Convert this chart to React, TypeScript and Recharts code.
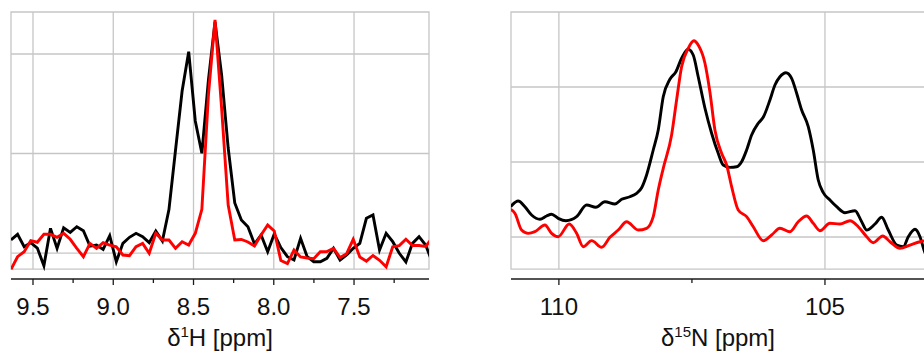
import React from 'react';
import { LineChart, Line, XAxis, YAxis, ReferenceLine, ReferenceArea } from 'recharts';

// ---------- 1H panel ----------
const hPpm = [
  9.637, 9.596, 9.555, 9.514, 9.473, 9.432, 9.391, 9.35, 9.309, 9.268,
  9.227, 9.186, 9.145, 9.104, 9.063, 9.022, 8.981, 8.94, 8.899, 8.858,
  8.817, 8.776, 8.735, 8.694, 8.653, 8.612, 8.571, 8.53, 8.489, 8.448,
  8.407, 8.366, 8.325, 8.284, 8.243, 8.202, 8.161, 8.12, 8.079, 8.038,
  7.997, 7.956, 7.915, 7.874, 7.833, 7.792, 7.751, 7.71, 7.669, 7.628,
  7.587, 7.546, 7.505, 7.464, 7.423, 7.382, 7.341, 7.3, 7.259, 7.218,
  7.177, 7.136, 7.095, 7.054, 7.013,
];
const hBlack = [
  0.131, 0.188, 0.063, 0.104, 0.05, -0.128, 0.248, 0.047, 0.254, 0.208,
  0.264, 0.224, 0.07, 0.08, 0.037, 0.174, -0.087, 0.097, 0.158, 0.198,
  0.164, 0.104, 0.221, 0.121, 0.437, 1.035, 1.628, 2.023, 1.327, 1.002,
  1.739, 2.322, 1.789, 1.055, 0.503, 0.332, 0.264, 0.09, 0.181, 0.013,
  0.191, 0.055, -0.037, -0.07, 0.148, -0.037, -0.087, -0.087, -0.053, 0.047,
  -0.07, -0.02, 0.047, 0.097, 0.349, 0.382, 0.03, 0.198, 0.114, -0.003,
  -0.09, 0.097, 0.164, 0.08, -0.09,
];
const hRed = [
  -0.164, -0.037, 0.013, 0.124, 0.108, 0.188, 0.188, 0.158, 0.198, 0.138,
  0.047, -0.037, 0.097, 0.047, 0.104, 0.08, 0.063, -0.02, -0.027, 0.063,
  0.097, -0.003, 0.198, 0.131, 0.131, 0.047, 0.114, 0.08, 0.198, 0.439,
  1.588, 2.342, 1.457, 0.482, 0.131, 0.136, 0.111, 0.07, 0.181, 0.281,
  0.221, -0.075, -0.106, 0.03, -0.04, -0.05, -0.057, 0.013, 0.015, 0.047,
  -0.045, -0.007, 0.138, -0.04, -0.082, -0.025, -0.073, -0.138, 0.063, 0.075,
  0.138, 0.075, 0.075, 0.067, 0.151,
];
const hTicks = [9.5, 9.25, 9.0, 8.75, 8.5, 8.25, 8.0, 7.75, 7.5, 7.25];
const hGridX = [9.5, 9.0, 8.5, 8.0, 7.5];
const hGridY = [0, 1, 2];

// ---------- 15N panel ----------
const nBlackPpm = [
  110.908, 110.765, 110.639, 110.513, 110.357, 110.231, 110.137, 110.013, 109.868, 109.667,
  109.479, 109.305, 109.135, 108.947, 108.821, 108.665, 108.539, 108.445, 108.352, 108.227,
  108.133, 108.039, 107.914, 107.801, 107.694, 107.57, 107.476, 107.382, 107.256, 107.13,
  107.006, 106.912, 106.786, 106.66, 106.566, 106.472, 106.378, 106.254, 106.16, 106.034,
  105.94, 105.846, 105.733, 105.626, 105.532, 105.438, 105.314, 105.22, 105.126, 105.032,
  104.906, 104.78, 104.624, 104.436, 104.31, 104.216, 104.06, 103.934, 103.81, 103.652,
  103.528, 103.434, 103.308, 103.214, 103.139, 103.045,
];
const nBlack = [
  0.404, 0.48, 0.404, 0.293, 0.236, 0.28, 0.303, 0.249, 0.217, 0.271,
  0.427, 0.396, 0.471, 0.44, 0.503, 0.537, 0.583, 0.657, 0.827, 1.16,
  1.427, 1.871, 2.103, 2.204, 2.383, 2.503, 2.427, 2.137, 1.72, 1.383,
  1.116, 0.96, 0.929, 0.937, 1.004, 1.16, 1.36, 1.516, 1.596, 1.827,
  2.027, 2.137, 2.191, 2.116, 1.916, 1.693, 1.471, 1.16, 0.76, 0.591,
  0.493, 0.404, 0.324, 0.351, 0.204, 0.093, 0.173, 0.263, 0.093, -0.107,
  -0.129, 0.004, 0.103, 0.004, -0.173, -0.333,
];
const nRedPpm = [
  110.908, 110.827, 110.701, 110.577, 110.451, 110.263, 110.137, 110.013, 109.806, 109.667,
  109.543, 109.385, 109.197, 109.041, 108.885, 108.727, 108.509, 108.352, 108.227, 108.133,
  108.039, 107.882, 107.788, 107.694, 107.57, 107.462, 107.382, 107.256, 107.162, 107.068,
  106.942, 106.848, 106.754, 106.63, 106.472, 106.348, 106.16, 106.002, 105.846, 105.658,
  105.502, 105.344, 105.22, 105.094, 104.906, 104.718, 104.53, 104.374, 104.216, 104.092,
  103.915, 103.778, 103.59, 103.402, 103.214, 103.045,
];
const nRed = [
  0.369, 0.316, 0.093, 0.049, 0.071, 0.16, 0.049, 0.004, 0.173, 0.049,
  -0.129, -0.049, -0.137, -0.004, 0.093, 0.204, 0.093, 0.116, 0.271, 0.627,
  0.916, 1.36, 1.827, 2.271, 2.516, 2.617, 2.56, 2.32, 1.933, 1.427,
  1.116, 0.96, 0.671, 0.36, 0.271, 0.137, -0.049, 0.027, 0.116, 0.071,
  0.204, 0.28, 0.183, 0.084, 0.183, 0.173, 0.217, 0.137, 0.004, -0.076,
  0.013, -0.063, -0.151, -0.107, -0.063, -0.04,
];
const nTicks = [110, 107.5, 105];
const nGridX = [110, 105];
const nGridY = [0, 1, 2];

const hData = hPpm.map((x, i) => ({ x, black: hBlack[i], red: hRed[i] }));
const nBlackData = nBlackPpm.map((x, i) => ({ x, y: nBlack[i] }));
const nRedData = nRedPpm.map((x, i) => ({ x, y: nRed[i] }));

const FONT = '"Liberation Sans", Arial, Helvetica, sans-serif';
const GRID = '#c6c6c6';
const AXIS = '#1a1a1a';

const makeTick = (majors: number[], fmt: (v: number) => string) => (props: any) => {
  const { x, y, payload } = props;
  const v = payload.value as number;
  const major = majors.some((m) => Math.abs(m - v) < 1e-6);
  return (
    <g>
      <line x1={x} x2={x} y1={y} y2={y + (major ? 6 : 4)} stroke={AXIS} strokeWidth={1.3} />
      {major && (
        <text x={x} y={y + 36} textAnchor="middle" fontSize={24} fontFamily={FONT} fill="#111">
          {fmt(v)}
        </text>
      )}
    </g>
  );
};

const HTick = makeTick(hGridX, (v) => v.toFixed(1));
const NTick = makeTick(nGridX, (v) => String(v));

export default function App() {
  const hDomX: [number, number] = [7.033, 9.637];
  const hDomY: [number, number] = [-0.261, 2.422];
  const hFrameBottom = -0.161;
  const nDomX: [number, number] = [103.12, 110.9];
  const nDomY: [number, number] = [-0.56, 3.0];
  const nFrameBottom = -0.427;

  return (
    <div style={{ position: 'absolute', left: 0, top: 0, width: 924, height: 352, overflow: 'hidden', background: '#fff' }}>
      <div style={{ position: 'absolute', left: 0, top: 0 }}>
        <LineChart width={440} height={352} data={hData} margin={{ top: 12, right: 11, left: 11, bottom: 13 }}>
          <XAxis
            dataKey="x"
            type="number"
            domain={hDomX}
            reversed
            allowDataOverflow
            ticks={hTicks}
            interval={0}
            tick={HTick}
            tickLine={false}
            tickSize={0}
            tickMargin={0}
            height={60}
            axisLine={{ stroke: AXIS, strokeWidth: 1.3 }}
          />
          <YAxis hide type="number" domain={hDomY} allowDataOverflow />
          <ReferenceArea x1={hDomX[0]} x2={hDomX[1]} y1={hFrameBottom} y2={hDomY[1]} fill="none" stroke={GRID} strokeWidth={1.3} ifOverflow="visible" />
          {hGridX.map((g) => (
            <ReferenceLine key={'hx' + g} segment={[{ x: g, y: hFrameBottom }, { x: g, y: hDomY[1] }]} stroke={GRID} strokeWidth={1.3} ifOverflow="visible" />
          ))}
          {hGridY.map((g) => (
            <ReferenceLine key={'hy' + g} y={g} stroke={GRID} strokeWidth={1.3} ifOverflow="visible" />
          ))}
          <Line dataKey="black" type="linear" stroke="#000" strokeWidth={2.9} dot={false} isAnimationActive={false} />
          <Line dataKey="red" type="linear" stroke="#ff0000" strokeWidth={2.9} dot={false} isAnimationActive={false} />
        </LineChart>
      </div>
      <div style={{ position: 'absolute', left: 462, top: 0 }}>
        <LineChart width={463} height={352} margin={{ top: 12, right: 0, left: 49, bottom: 13 }}>
          <XAxis
            dataKey="x"
            type="number"
            domain={nDomX}
            reversed
            allowDataOverflow
            ticks={nTicks}
            interval={0}
            tick={NTick}
            tickLine={false}
            tickSize={0}
            tickMargin={0}
            height={60}
            axisLine={{ stroke: AXIS, strokeWidth: 1.3 }}
          />
          <YAxis hide type="number" domain={nDomY} allowDataOverflow />
          <ReferenceArea x1={nDomX[0]} x2={nDomX[1]} y1={nFrameBottom} y2={nDomY[1]} fill="none" stroke={GRID} strokeWidth={1.3} ifOverflow="visible" />
          {nGridX.map((g) => (
            <ReferenceLine key={'nx' + g} segment={[{ x: g, y: nFrameBottom }, { x: g, y: nDomY[1] }]} stroke={GRID} strokeWidth={1.3} ifOverflow="visible" />
          ))}
          {nGridY.map((g) => (
            <ReferenceLine key={'ny' + g} y={g} stroke={GRID} strokeWidth={1.3} ifOverflow="visible" />
          ))}
          <Line data={nBlackData} dataKey="y" type="monotone" stroke="#000" strokeWidth={2.9} dot={false} isAnimationActive={false} />
          <Line data={nRedData} dataKey="y" type="monotone" stroke="#ff0000" strokeWidth={2.9} dot={false} isAnimationActive={false} />
        </LineChart>
      </div>
      <svg width={924} height={352} style={{ position: 'absolute', left: 0, top: 0, pointerEvents: 'none' }}>
        <text x={220} y={346} textAnchor="middle" fontSize={24} fontFamily={FONT} fill="#111">
          δ<tspan dy={-9} fontSize={15}>1</tspan><tspan dy={9}>H [ppm]</tspan>
        </text>
        <text x={718} y={346} textAnchor="middle" fontSize={24} fontFamily={FONT} fill="#111">
          δ<tspan dy={-9} fontSize={15}>15</tspan><tspan dy={9}>N [ppm]</tspan>
        </text>
      </svg>
    </div>
  );
}
